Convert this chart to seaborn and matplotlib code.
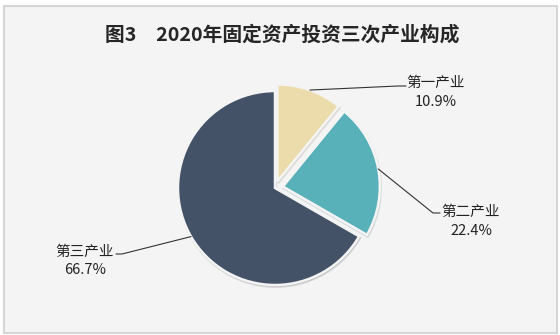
import matplotlib
matplotlib.use("Agg")
import matplotlib.pyplot as plt
import matplotlib.patches as mpatches
import seaborn as sns
import numpy as np

# ---- data ----
categories = ["第一产业", "第二产业", "第三产业"]
shares = [10.9, 22.4, 66.7]
pct_labels = ["10.9%", "22.4%", "66.7%"]
title = "图3　2020年固定资产投资三次产业构成"

sns.set_theme(style="white")
plt.rcParams['font.family'] = ['Noto Sans CJK SC', 'DejaVu Sans']

colors = sns.color_palette(["#ecdcab", "#58b0b8", "#435266"])

W, H = 560, 335
fig = plt.figure(figsize=(W / 100, H / 100), dpi=100, facecolor="white")
ax = fig.add_axes([0, 0, 1, 1])

# frame
ax.add_patch(mpatches.Rectangle((4, 2), 553, 327, facecolor="#f4f4f4",
                                edgecolor="#d6d6d6", linewidth=1.5, zorder=0))

center = (275, H - 188)
radius = 97
explode = [7, 8, 0]  # offsets in pixel units
wedges, _ = ax.pie(shares, colors=colors, startangle=90, counterclock=False,
                   center=center, radius=radius, explode=explode,
                   shadow=dict(ox=0.6, oy=-1.2, shade=0.5, alpha=0.15),
                   wedgeprops=dict(edgecolor="#f4f4f4", linewidth=1.8))
for w in wedges:
    w.set_zorder(2)

ax.set_xlim(0, W)
ax.set_ylim(0, H)
ax.set_aspect("equal")
ax.axis("off")

# label layout (pixel coords, y down)
elbows = [(398, 86), (433, 213), (122, 254)]
ends = [(406, 86), (440, 213), (116, 254)]
name_pos = [(436, 83), (471, 212), (85, 252)]
pct_pos = [(436, 102), (471, 231), (85, 270)]

for w, el, en, npos, ppos, name, pl in zip(wedges, elbows, ends, name_pos,
                                            pct_pos, categories, pct_labels):
    ang = np.deg2rad((w.theta1 + w.theta2) / 2)
    cx, cy = w.center
    sx = cx + w.r * np.cos(ang)
    sy = cy + w.r * np.sin(ang)
    ax.plot([sx, el[0], en[0]], [sy, H - el[1], H - en[1]], color="#333333",
            linewidth=0.8, zorder=3)
    ax.text(npos[0], H - npos[1], name, ha="center", va="center",
            fontsize=10.5, color="#222222")
    ax.text(ppos[0], H - ppos[1], pl, ha="center", va="center",
            fontsize=10.5, color="#222222")

ax.text(282, H - 35, title, ha="center", va="center", fontsize=14.2,
        fontweight="bold", color="#262626")

fig.savefig("out.png", dpi=100, facecolor="white")
